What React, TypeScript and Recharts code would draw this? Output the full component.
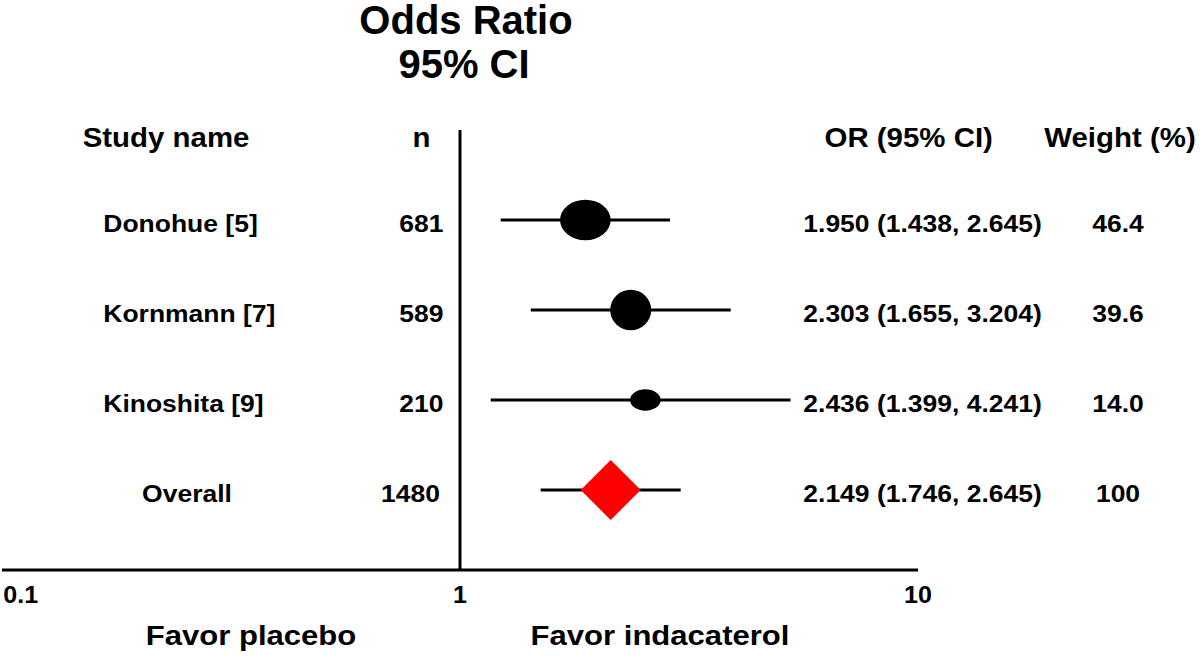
import React from 'react';
import { ComposedChart, Scatter, XAxis, YAxis, ReferenceLine, ErrorBar, Customized } from 'recharts';

// ---- data ----
const studyNames = ['Donohue [5]', 'Kornmann [7]', 'Kinoshita [9]'];
const studyN = ['681', '589', '210'];
const studyOrText = ['1.950 (1.438, 2.645)', '2.303 (1.655, 3.204)', '2.436 (1.399, 4.241)'];
const studyWeight = ['46.4', '39.6', '14.0'];
// plotted positions
const studyOr = [1.878, 2.359, 2.539];
const studyLow = [1.227, 1.427, 1.167];
const studyHigh = [2.874, 3.9, 5.27];
const studyRow = [1, 2, 3];

const overallName = 'Overall';
const overallN = '1480';
const overallOrText = '2.149 (1.746, 2.645)';
const overallWeight = '100';
const overallOr = 2.133;
const overallLow = 1.5;
const overallHigh = 3.033;
const overallRow = 4;

const xTicks = [0.1, 1, 10];
const xTickLabels = ['0.1', '1', '10'];

// ---- styles ----
const FONT = '"Liberation Sans", Arial, Helvetica, sans-serif';
const SX = 1.09;
const MARKER_R = [
  [25.3, 20.3],
  [20.5, 20.3],
  [15.3, 10.7],
];

const studyData = studyNames.map((name, i) => ({
  idx: i,
  name,
  n: studyN[i],
  orText: studyOrText[i],
  weight: studyWeight[i],
  or: studyOr[i],
  row: studyRow[i],
  ci: [studyOr[i] - studyLow[i], studyHigh[i] - studyOr[i]],
}));

const overallData = [
  {
    idx: 3,
    name: overallName,
    n: overallN,
    orText: overallOrText,
    weight: overallWeight,
    or: overallOr,
    row: overallRow,
    ci: [overallOr - overallLow, overallHigh - overallOr],
  },
];

function T({ x, y, anchor = 'start', size, sx = SX, children, fill = '#000' }: any) {
  return (
    <text
      transform={`translate(${x} ${y}) scale(${sx} 1)`}
      x={0}
      y={0}
      textAnchor={anchor}
      fontSize={size}
      fontWeight="bold"
      fontFamily={FONT}
      fill={fill}
    >
      {children}
    </text>
  );
}

const ROW_FS = 24.3;

function RowTexts({ cy, p, overall }: any) {
  const by = cy + 11.7;
  return (
    <g>
      {overall ? (
        <T x={187} y={by} anchor="middle" size={ROW_FS}>{p.name}</T>
      ) : (
        <T x={103.3} y={by} anchor="start" size={ROW_FS}>{p.name}</T>
      )}
      <T x={overall ? 440 : 443.5} y={by} anchor="end" size={ROW_FS}>{p.n}</T>
      <T x={803.3} y={by} anchor="start" size={ROW_FS}>{p.orText}</T>
      <T x={1118} y={by} anchor="middle" size={ROW_FS}>{p.weight}</T>
    </g>
  );
}

const StudyShape = (props: any) => {
  const { cx, cy, payload } = props;
  const [rx, ry] = MARKER_R[payload.idx];
  return (
    <g>
      <ellipse cx={cx} cy={cy} rx={rx} ry={ry} fill="#000" />
      <RowTexts cy={cy} p={payload} overall={false} />
    </g>
  );
};

const OverallShape = (props: any) => {
  const { cx, cy, payload } = props;
  const h = 30;
  const w = 30;
  return (
    <g>
      <polygon
        points={`${cx},${cy - h} ${cx + w},${cy} ${cx},${cy + h} ${cx - w},${cy}`}
        fill="#ff0000"
      />
      <RowTexts cy={cy} p={payload} overall={true} />
    </g>
  );
};

const XTick = (props: any) => {
  const { x, y, payload } = props;
  const i = xTicks.indexOf(payload.value);
  const label = i >= 0 ? xTickLabels[i] : String(payload.value);
  const by = y + 33;
  if (i === 0) {
    return <T x={3.3} y={by} anchor="start" size={23}>{label}</T>;
  }
  return <T x={x} y={by} anchor="middle" size={23}>{label}</T>;
};

const Headers = () => (
  <g>
    <T x={466} y={33.5} anchor="middle" size={40} sx={1}>Odds Ratio</T>
    <T x={464} y={78} anchor="middle" size={40} sx={1}>95% CI</T>
    <T x={82.7} y={146.7} anchor="start" size={27}>Study name</T>
    <T x={421.5} y={146.7} anchor="middle" size={27}>n</T>
    <T x={908.7} y={146.7} anchor="middle" size={27}>OR (95% CI)</T>
    <T x={1120} y={146.7} anchor="middle" size={27}>Weight (%)</T>
    <T x={251} y={645} anchor="middle" size={28.5}>Favor placebo</T>
    <T x={660} y={645} anchor="middle" size={28.5}>Favor indacaterol</T>
  </g>
);

export default function App() {
  return (
    <div style={{ position: 'absolute', left: 0, top: 0, width: 1200, height: 658, background: '#fff' }}>
      <ComposedChart
        width={1200}
        height={658}
        margin={{ top: 130, right: 282, bottom: 58, left: 2 }}
      >
        <XAxis
          type="number"
          dataKey="or"
          scale="log"
          domain={[0.1, 10]}
          ticks={xTicks}
          height={30}
          axisLine={{ stroke: '#000', strokeWidth: 3 }}
          tickLine={false}
          tickSize={0}
          tickMargin={0}
          tick={<XTick />}
          interval={0}
        />
        <YAxis type="number" dataKey="row" hide reversed domain={[0, 440 / 90]} />
        <ReferenceLine x={1} stroke="#000" strokeWidth={3} />
        <Scatter data={studyData} dataKey="or" shape={StudyShape} isAnimationActive={false}>
          <ErrorBar dataKey="ci" direction="x" width={0} stroke="#000" strokeWidth={3} isAnimationActive={false} />
        </Scatter>
        <Scatter data={overallData} dataKey="or" shape={OverallShape} isAnimationActive={false}>
          <ErrorBar dataKey="ci" direction="x" width={0} stroke="#000" strokeWidth={3} isAnimationActive={false} />
        </Scatter>
        <Customized component={<Headers />} />
      </ComposedChart>
    </div>
  );
}
